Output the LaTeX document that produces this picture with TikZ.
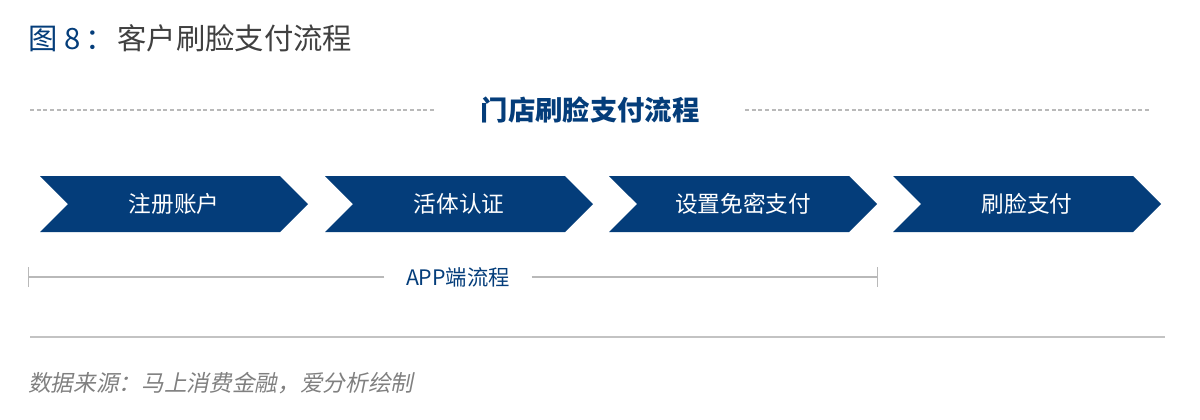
\documentclass[tikz,border=0pt]{standalone}
\usepackage{fontspec}
\setmainfont{Noto Sans CJK SC}
\newfontfamily\srcfont[FakeSlant=0.2]{Noto Sans CJK SC}
\usepackage{tikz}
\usetikzlibrary{shapes.symbols, arrows.meta, positioning}
\definecolor{navy}{RGB}{4,61,122}
\definecolor{darktext}{RGB}{64,64,64}
\definecolor{linegray}{RGB}{185,185,185}
\definecolor{srcgray}{RGB}{128,128,128}
\tikzset{
  chevron/.style={signal, signal from=west, signal to=east, signal pointer angle=90,
    fill=navy, text=white, minimum width=201pt, minimum height=42pt, inner sep=0pt,
    font=\fontsize{17}{17}\selectfont},
  headline/.style={text=navy, font=\fontsize{20.5}{21}\selectfont\bfseries, inner xsep=34pt},
  applabel/.style={text=navy, font=\fontsize{16}{16}\selectfont, inner xsep=16pt},
  dashline/.style={draw=linegray, line width=0.8pt, dash pattern=on 3pt off 2pt},
  appline/.style={draw=linegray, line width=0.9pt, -{Bar[width=15pt, line width=0.9pt]}},
}
\tikzstyle{rule} = [draw=linegray!85, line width=1.5pt]

\begin{document}
\begin{tikzpicture}[x=0.75pt, y=-0.75pt]
  \useasboundingbox (0,0) rectangle (1200,419);
  % title of the figure
  \node[anchor=west, inner sep=0pt, font=\fontsize{22}{22}\selectfont] (figtitle) at (28,38)
    {\textcolor{navy}{图 8\,：}\textcolor{darktext}{\hspace{0.1em}客户刷脸支付流程}};
  % heading with dashed rules
  \node[headline] (head) at (590,110) {门店刷脸支付流程};
  \coordinate (dl) at (30,110);
  \coordinate (dr) at (1150,110);
  \draw[dashline] (dl) -- (head.west);
  \draw[dashline] (head.east) -- (dr);
  % steps
  \foreach \name/\x/\txt in {reg/174/注册账户, live/459/活体认证, nopwd/743/设置免密支付, face/1027/刷脸支付}
    \node[chevron] (\name) at (\x,204) {\txt};
  % app part
  \node[applabel] (app) at (458,277) {APP端流程};
  \coordinate (appl) at (28,277);
  \coordinate (appr) at (878,277);
  \draw[appline] (app.west) -- (appl);
  \draw[appline] (app.east) -- (appr);
  % footer
  \coordinate (rl) at (30,337);
  \coordinate (rr) at (1165,337);
  \draw[rule] (rl) -- (rr);
  \node[anchor=west, inner sep=0pt, text=srcgray, font=\srcfont\fontsize{17}{17}\selectfont] (source) at (28,383)
    {数据来源：马上消费金融，爱分析绘制};
\end{tikzpicture}
\end{document}
